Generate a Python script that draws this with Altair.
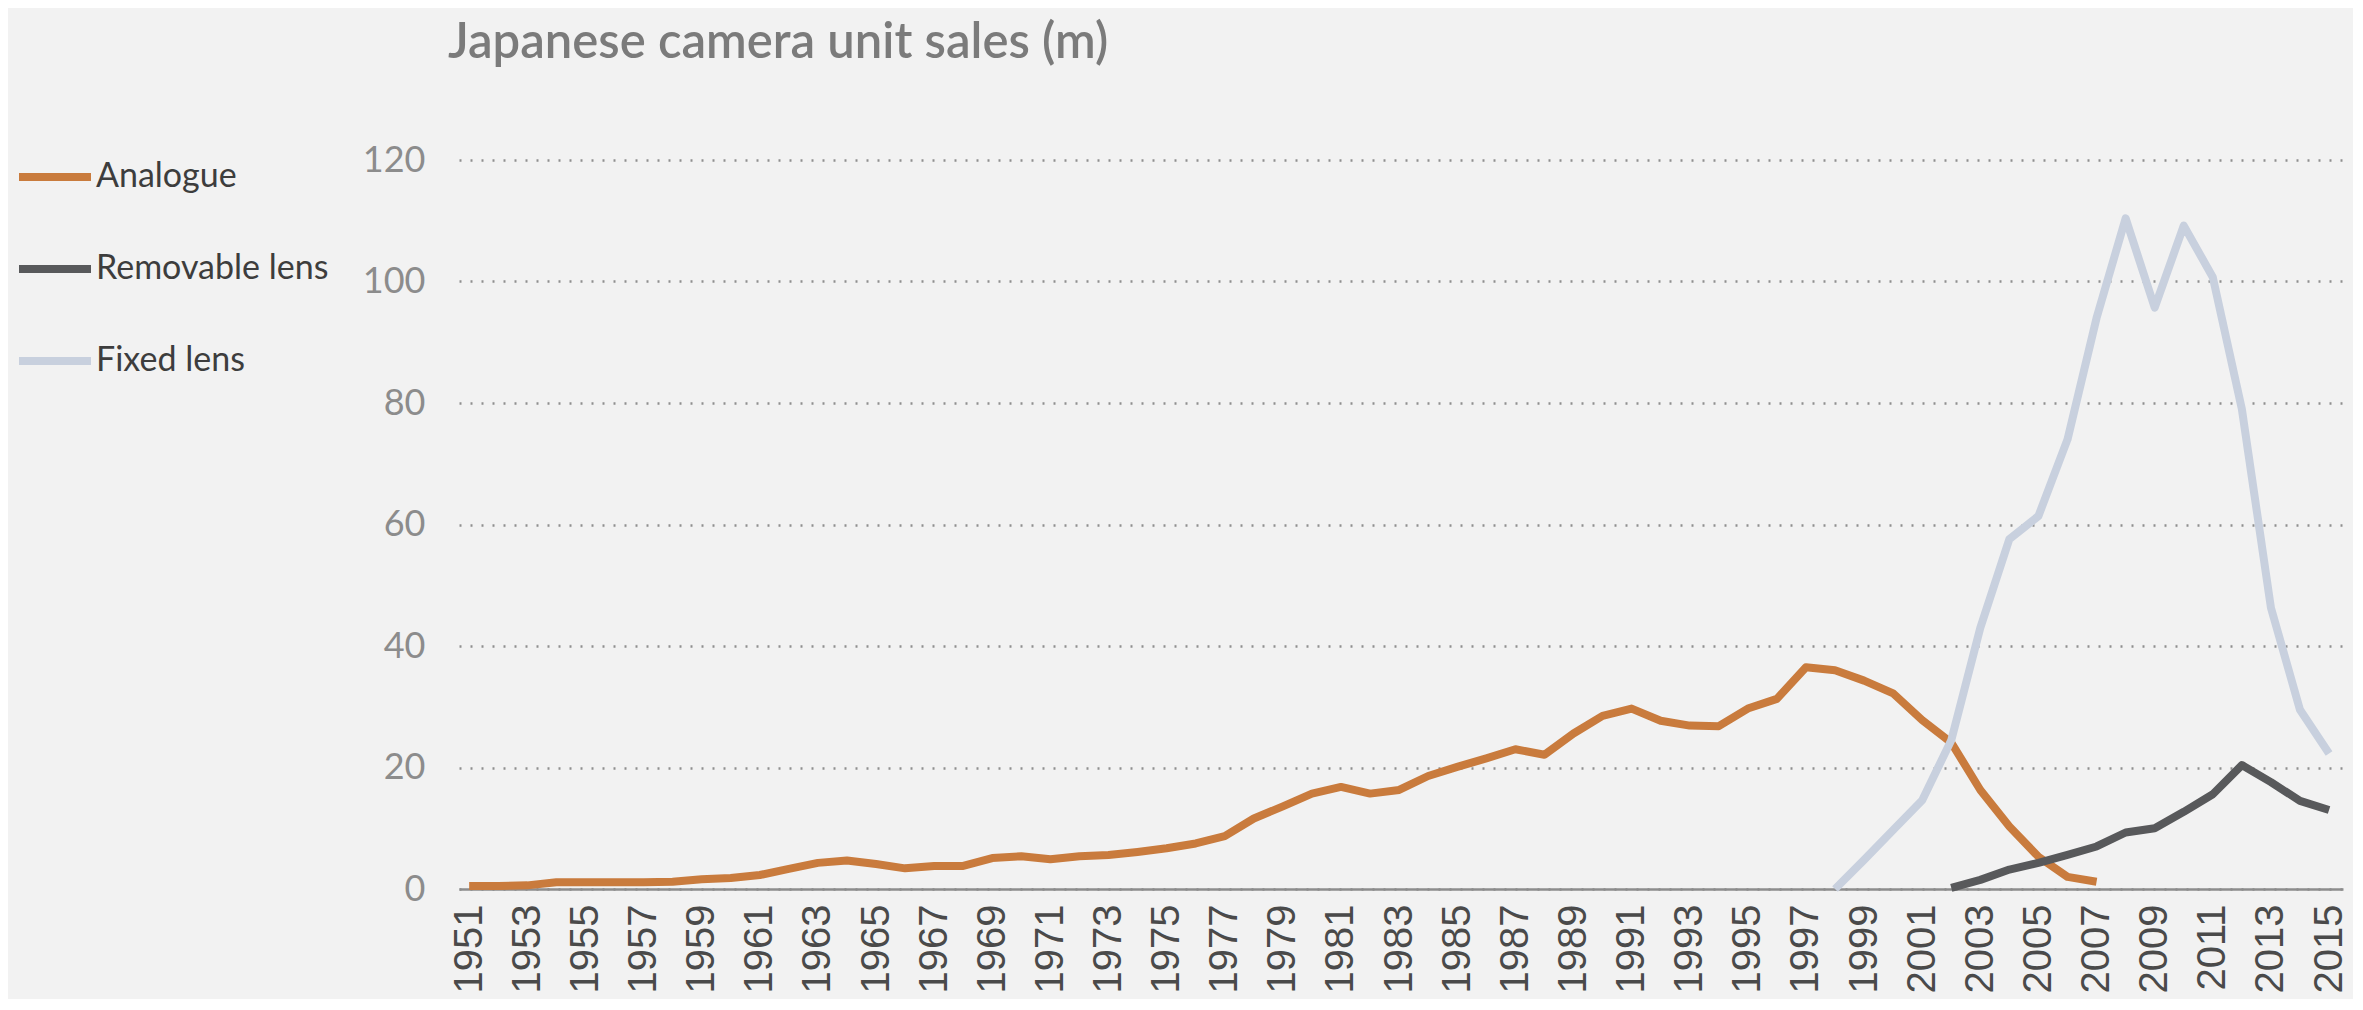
import altair as alt
import pandas as pd

series_names = ["Analogue", "Removable lens", "Fixed lens"]
series_colors = ["#c97b3d", "#58595b", "#c8d0de"]
series_widths = [8, 8, 6.5]

analogue_years = list(range(1951, 2008))
analogue_values = [
    0.5, 0.5, 0.6, 1.1, 1.1, 1.1, 1.1, 1.2, 1.6, 1.8,
    2.3, 3.3, 4.3, 4.7, 4.1, 3.4, 3.8, 3.8, 5.1, 5.4,
    4.9, 5.4, 5.6, 6.1, 6.7, 7.5, 8.7, 11.6, 13.6, 15.7,
    16.8, 15.7, 16.3, 18.6, 20.1, 21.5, 23.0, 22.1, 25.6, 28.5,
    29.7, 27.7, 26.9, 26.8, 29.7, 31.3, 36.5, 36.0, 34.3, 32.2,
    27.8, 24.1, 16.3, 10.3, 5.3, 2.0, 1.2,
]

removable_years = list(range(2002, 2016))
removable_values = [0.2, 1.5, 3.2, 4.3, 5.6, 7.0, 9.3, 10.0, 12.7, 15.6, 20.4, 17.6, 14.5, 13.0]

fixed_years = list(range(1998, 2016))
fixed_values = [0, 4.8, 9.7, 14.6, 24.5, 43.0, 57.6, 61.4, 74.0, 94.0,
                110.4, 95.7, 109.2, 100.7, 79.0, 46.3, 29.5, 22.3]

x_tick_years = list(range(1951, 2016, 2))
y_ticks = [0, 20, 40, 60, 80, 100, 120]

rows = []
for name, yrs, vals in zip(series_names,
                           [analogue_years, removable_years, fixed_years],
                           [analogue_values, removable_values, fixed_values]):
    for yr, v in zip(yrs, vals):
        rows.append({"year": yr, "sales": v, "series": name})
df = pd.DataFrame(rows)

chart = alt.Chart(df).mark_line(strokeJoin="round", strokeCap="butt").encode(
    x=alt.X(
        "year:Q",
        scale=alt.Scale(domain=[1950.65, 2015.48], nice=False, zero=False),
        axis=alt.Axis(
            values=x_tick_years, format="d", labelAngle=270, title=None,
            grid=False, ticks=False, domain=True, domainColor="#8d8d8d", domainWidth=2.5,
            labelFontSize=40, labelFont="Liberation Sans", labelColor="#4a4a4a",
            labelPadding=15, labelOverlap=False, labelFlush=False,
        ),
    ),
    y=alt.Y(
        "sales:Q",
        scale=alt.Scale(domain=[0, 120], nice=False),
        axis=alt.Axis(
            values=y_ticks, title=None, ticks=False, domain=False,
            grid=True, gridDash=[2, 9], gridColor="#8f8f8f", gridWidth=2.4,
            labelFontSize=36, labelFont="Lato", labelColor="#8c8c8c", labelPadding=34,
        ),
    ),
    color=alt.Color(
        "series:N",
        sort=series_names,
        scale=alt.Scale(domain=series_names, range=series_colors),
        legend=alt.Legend(
            title=None, orient="none", legendX=-444, legendY=-23,
            symbolType="stroke", symbolSize=5184, symbolStrokeWidth=8,
            labelFontSize=34, labelFont="Lato", labelColor="#3d3d3d",
            labelOffset=1, rowPadding=35, direction="vertical", labelLimit=0,
        ),
    ),
    strokeWidth=alt.StrokeWidth(
        "series:N",
        scale=alt.Scale(domain=series_names, range=series_widths),
        legend=None,
    ),
).properties(
    width=1884,
    height=729,
    padding={"left": 451, "top": 152, "right": 10, "bottom": 110},
    autosize=alt.AutoSizeParams(type="none"),
    title=alt.TitleParams(
        "Japanese camera unit sales (m)", anchor="start", frame="group",
        fontSize=49, font="Lato", fontWeight=600, color="#7b7b7b", dx=-11, dy=-65,
    ),
).configure(
    background="#f2f2f2",
).configure_view(stroke=None)

chart.save("out.html", embed_options={"renderer": "svg", "actions": False})
